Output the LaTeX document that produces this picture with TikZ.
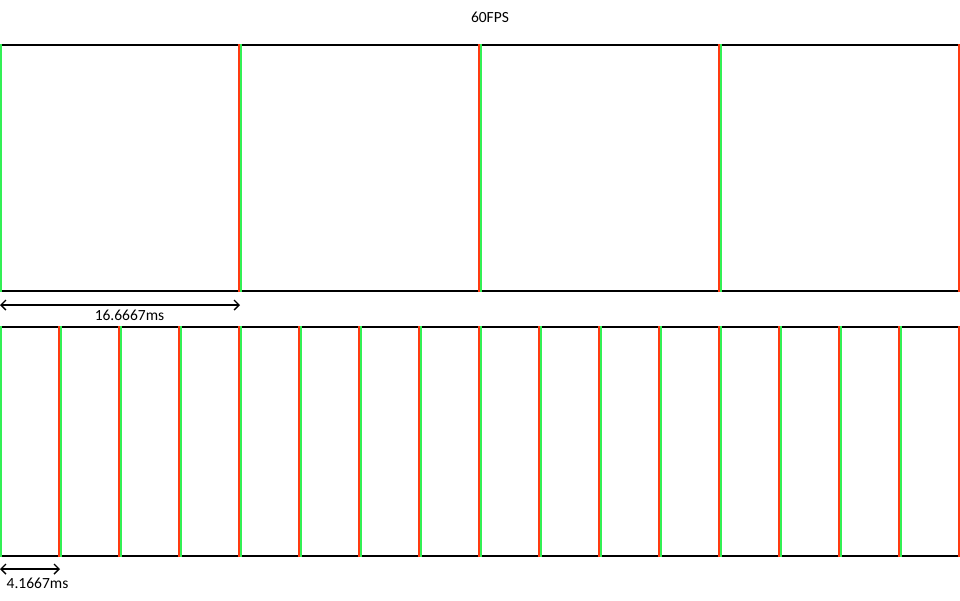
\documentclass[tikz,border=0pt]{standalone}
\usepackage{fontspec}
\setmainfont{Carlito}
\usetikzlibrary{arrows.meta}
\definecolor{fgreen}{HTML}{33F055}
\definecolor{fred}{HTML}{FF3A10}
\tikzset{
  rail/.style={black, line width=2pt},
  gbar/.style={fgreen, line width=2pt},
  rbar/.style={fred, line width=2pt},
  dimarrow/.style={line width=1.4pt, {Straight Barb[length=5pt,width=10pt]}-{Straight Barb[length=5pt,width=10pt]}},
  lbl/.style={font=\fontsize{15.5pt}{18pt}\selectfont, inner sep=0pt}
}
\begin{document}
\begin{tikzpicture}[x=1pt,y=-1pt]
\useasboundingbox (0,0) rectangle (960,600);
% title
\node[lbl] (title) at (490,17) {60FPS};
% top box
\draw[rail] (0,45) -- (960,45);
\draw[rail] (0,291) -- (960,291);
\draw[gbar] (1,44) -- (1,292);
\draw[rbar] (959,44) -- (959,292);
\foreach \X in {240,480,720}{
  \draw[rbar] (\X-1,44) -- (\X-1,292);
  \draw[gbar] (\X+1,44) -- (\X+1,292);
}
% bottom box
\draw[rail] (0,327) -- (960,327);
\draw[rail] (0,556) -- (960,556);
\draw[gbar] (1,326) -- (1,557);
\draw[rbar] (959,326) -- (959,557);
\foreach \X in {60,120,...,900}{
  \draw[rbar] (\X-1,326) -- (\X-1,557);
  \draw[gbar] (\X+1,326) -- (\X+1,557);
}
% dimensions
\coordinate (a1) at (0,305);
\coordinate (a2) at (240,305);
\draw[dimarrow] (a1) -- (a2);
\node[lbl] (d1) at (129.5,315) {16.6667ms};
\coordinate (b1) at (0,569);
\coordinate (b2) at (60,569);
\draw[dimarrow] (b1) -- (b2);
\node[lbl] (d2) at (37.5,583) {4.1667ms};
\end{tikzpicture}
\end{document}
